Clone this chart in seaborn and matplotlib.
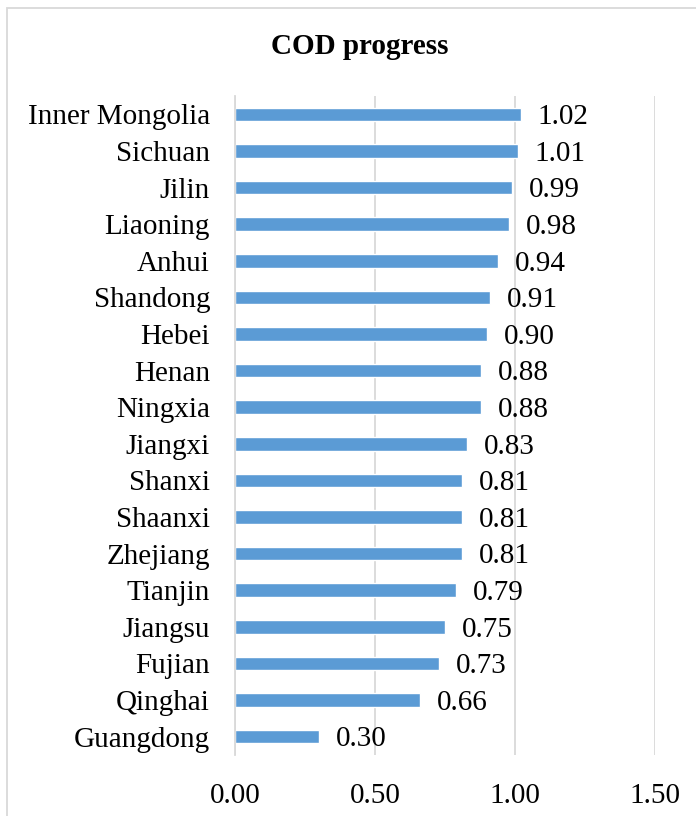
import pandas as pd
import matplotlib.pyplot as plt
import seaborn as sns
from matplotlib.patches import Rectangle

# Data
provinces = ["Inner Mongolia", "Sichuan", "Jilin", "Liaoning", "Anhui", "Shandong",
             "Hebei", "Henan", "Ningxia", "Jiangxi", "Shanxi", "Shaanxi",
             "Zhejiang", "Tianjin", "Jiangsu", "Fujian", "Qinghai", "Guangdong"]
progress = [1.02, 1.01, 0.99, 0.98, 0.94, 0.91, 0.90, 0.88, 0.88, 0.83,
            0.81, 0.81, 0.81, 0.79, 0.75, 0.73, 0.66, 0.30]
x_ticks = [0.0, 0.5, 1.0, 1.5]

df = pd.DataFrame({"province": provinces, "progress": progress})

sns.set_style("white")
plt.rcParams["font.family"] = ["Liberation Serif", "DejaVu Serif"]
plt.rcParams["text.color"] = "black"
plt.rcParams["xtick.color"] = "black"
plt.rcParams["ytick.color"] = "black"

fig = plt.figure(figsize=(6.96, 8.16), dpi=100)
ax = fig.add_axes([235 / 696, 1 - 755 / 816, 420 / 696, 659 / 816])

sns.barplot(data=df, x="progress", y="province", orient="h", color="#5B9BD5",
            saturation=1, width=0.37, ax=ax)

# value labels
for i, v in enumerate(progress):
    ax.annotate(f"{v:.2f}", (v, i), xytext=(12, -2), textcoords="offset points",
                ha="left", va="center", fontsize=21, color="black")

ax.set_xlim(0, 1.5)
ax.set_xticks(x_ticks)
ax.set_xticklabels([f"{t:.2f}" for t in x_ticks], fontsize=21)
ax.tick_params(axis="y", labelsize=21, length=0, pad=18)
ax.tick_params(axis="x", length=0, pad=20)
ax.set_xlabel("")
ax.set_ylabel("")
ax.xaxis.grid(True, color="#D9D9D9", linewidth=1.3)
ax.set_axisbelow(True)
for s in ["top", "right", "bottom"]:
    ax.spines[s].set_visible(False)
ax.spines["left"].set_color("#D9D9D9")
ax.spines["left"].set_linewidth(1.3)

fig.text(360 / 696, 1 - 47 / 816, "COD progress", ha="center", va="center",
         fontsize=21, fontweight="bold")

# chart border
fig.patches.append(Rectangle((7 / 696, -0.01), 1.1, 1 - 8 / 816 + 0.01,
                             transform=fig.transFigure, fill=False,
                             edgecolor="#D9D9D9", linewidth=1.3))

fig.savefig("out.png", dpi=100)
